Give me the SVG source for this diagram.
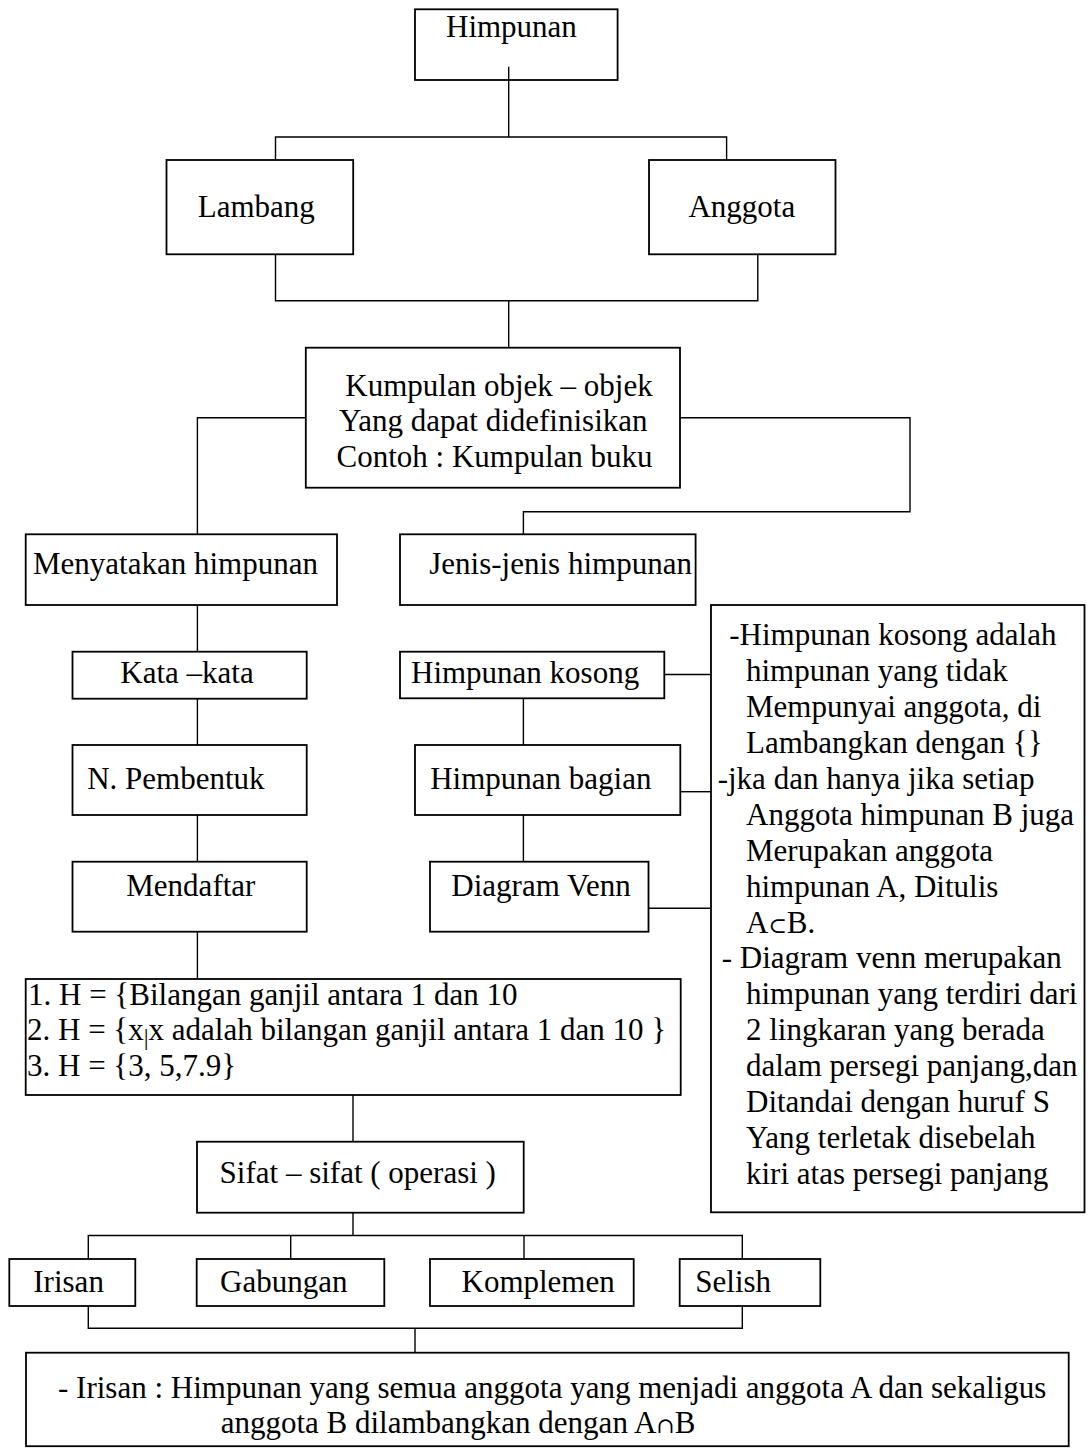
<svg xmlns="http://www.w3.org/2000/svg" width="1088" height="1449" viewBox="0 0 1088 1449">
<style>
.box{fill:#fff;stroke:#000;stroke-width:1.8}
.ln{fill:none;stroke:#000;stroke-width:1.4}
text{font-family:"Liberation Serif","Times New Roman",serif;font-size:31px;fill:#000}
.sym{font-family:"DejaVu Serif","Liberation Serif",serif;font-size:22px}
</style>
<rect width="1088" height="1449" fill="#fff"/>
<g id="nodes">
<g id="n-himpunan"><rect class="box" x="415" y="9.3" width="202.6" height="70.7"/><text x="446" y="36.7">Himpunan</text></g>
<g id="n-lambang"><rect class="box" x="166.5" y="160" width="186.7" height="94.3"/><text x="197.8" y="216.7">Lambang</text></g>
<g id="n-anggota"><rect class="box" x="649" y="160" width="186.5" height="94.3"/><text x="688.4" y="216.7">Anggota</text></g>
<g id="n-kumpulan"><rect class="box" x="305.8" y="347.7" width="374.2" height="140"/>
<text x="345.3" y="396">Kumpulan objek – objek</text>
<text x="339" y="431">Yang dapat didefinisikan</text>
<text x="336.5" y="466.5">Contoh : Kumpulan buku</text></g>
<g id="n-menyatakan"><rect class="box" x="25.7" y="534.3" width="311.3" height="70.7"/><text x="33" y="574">Menyatakan himpunan</text></g>
<g id="n-jenis"><rect class="box" x="400" y="534.3" width="295.6" height="70.7"/><text x="429.3" y="574">Jenis-jenis himpunan</text></g>
<g id="n-kata"><rect class="box" x="72.5" y="651.7" width="234.2" height="47"/><text x="120.3" y="682.7">Kata –kata</text></g>
<g id="n-pembentuk"><rect class="box" x="72.5" y="745" width="234.2" height="70"/><text x="87.2" y="788.7">N. Pembentuk</text></g>
<g id="n-mendaftar"><rect class="box" x="72.5" y="861.7" width="234.2" height="70"/><text x="126.3" y="896">Mendaftar</text></g>
<g id="n-kosong"><rect class="box" x="400" y="651.7" width="264.3" height="46.6"/><text x="411" y="682.7">Himpunan kosong</text></g>
<g id="n-bagian"><rect class="box" x="415" y="745" width="265.3" height="70"/><text x="430.2" y="788.7">Himpunan bagian</text></g>
<g id="n-venn"><rect class="box" x="430" y="861.7" width="218.5" height="70"/><text x="451.3" y="896">Diagram Venn</text></g>
<g id="n-keterangan"><rect class="box" x="711" y="605" width="373.5" height="607.3"/>
<text x="729.3" y="645">-Himpunan kosong adalah</text>
<text x="746" y="681">himpunan yang tidak</text>
<text x="746" y="717">Mempunyai anggota, di</text>
<text x="746" y="753">Lambangkan dengan {}</text>
<text x="717.7" y="789">-jka dan hanya jika setiap</text>
<text x="746" y="825">Anggota himpunan B juga</text>
<text x="746" y="860.5">Merupakan anggota</text>
<text x="746" y="896.5">himpunan A, Ditulis</text>
<text x="746" y="932.5">A<tspan class="sym">⊂</tspan>B.</text>
<text x="721.7" y="968.3">- Diagram venn merupakan</text>
<text x="746" y="1004">himpunan yang terdiri dari</text>
<text x="746" y="1040">2 lingkaran yang berada</text>
<text x="746" y="1076">dalam persegi panjang,dan</text>
<text x="746" y="1112">Ditandai dengan huruf S</text>
<text x="746" y="1147.8">Yang terletak disebelah</text>
<text x="746" y="1183.5">kiri atas persegi panjang</text></g>
<g id="n-cara"><rect class="box" x="25.7" y="979" width="655" height="116"/>
<text x="28" y="1005">1. H = {Bilangan ganjil antara 1 dan 10</text>
<text x="27" y="1040.4">2. H = {x<tspan font-size="24" dy="5">|</tspan><tspan dy="-5">x adalah bilangan ganjil antara 1 dan 10 }</tspan></text>
<text x="27" y="1075.7">3. H = {3, 5,7.9}</text></g>
<g id="n-sifat"><rect class="box" x="197" y="1141.7" width="326.7" height="71"/><text x="219.6" y="1183">Sifat – sifat ( operasi )</text></g>
<g id="n-irisan"><rect class="box" x="9.3" y="1259" width="126" height="47"/><text x="33.3" y="1291.7">Irisan</text></g>
<g id="n-gabungan"><rect class="box" x="196.7" y="1259" width="187.6" height="47"/><text x="220" y="1291.7">Gabungan</text></g>
<g id="n-komplemen"><rect class="box" x="430" y="1259" width="203.7" height="47"/><text x="461.5" y="1291.7">Komplemen</text></g>
<g id="n-selish"><rect class="box" x="679.7" y="1259" width="140.6" height="47"/><text x="695.3" y="1291.7">Selish</text></g>
<g id="n-irisan-def"><rect class="box" x="26" y="1352.7" width="1042.7" height="93.5"/>
<text x="58" y="1398">- Irisan : Himpunan yang semua anggota yang menjadi anggota A dan sekaligus</text>
<text x="220.7" y="1433">anggota B dilambangkan dengan A<tspan class="sym">∩</tspan>B</text></g>
</g>
<g id="connectors" class="ln">
<path d="M508.7,66.7 V137"/>
<path d="M275.5,160 V137 H726.6 V160"/>
<path d="M275.5,254.3 V300.7 H757.8 V254.3"/>
<path d="M508.7,300.7 V347.7"/>
<path d="M305.8,417.7 H197.4 V534.3"/>
<path d="M680,417.7 H910 V511.7 H523.4 V534.3"/>
<path d="M197.4,605 V651.7"/>
<path d="M197.4,698.7 V745"/>
<path d="M197.4,815 V861.7"/>
<path d="M197.4,931.7 V979"/>
<path d="M523.4,698.3 V745"/>
<path d="M523.4,815 V861.7"/>
<path d="M664.3,674.5 H711"/>
<path d="M680.3,791.7 H711"/>
<path d="M648.5,908.3 H711"/>
<path d="M353,1095 V1141.7"/>
<path d="M353,1212.7 V1235.5"/>
<path d="M88.3,1259 V1235.5 H742.3 V1259"/>
<path d="M290.7,1235.5 V1259"/>
<path d="M524,1235.5 V1259"/>
<path d="M88.3,1306 V1328.3 H742.3 V1306"/>
<path d="M415,1328.3 V1352.7"/>
</g>
</svg>
